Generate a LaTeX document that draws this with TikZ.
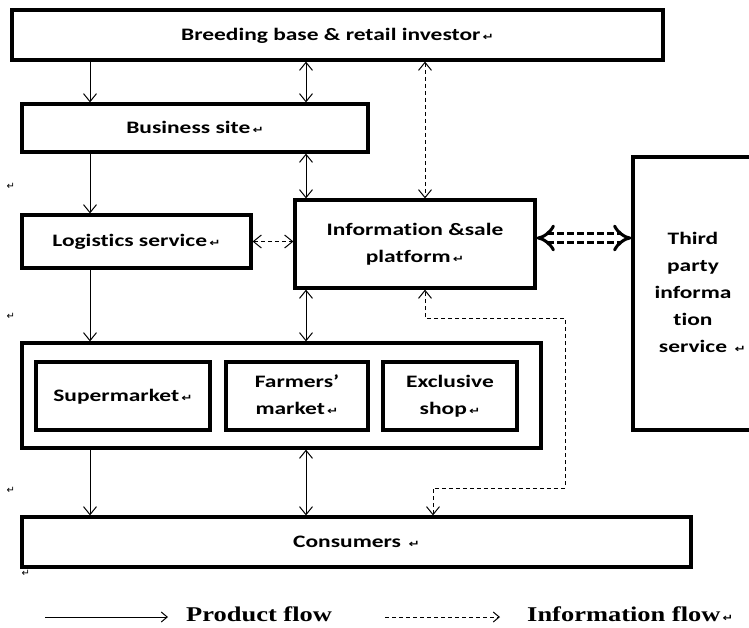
\documentclass[tikz,border=0pt]{standalone}
\usepackage{fontspec}
\usepackage{graphicx}
\setmainfont{Carlito}[Ligatures=NoCommon]
\newfontfamily\legendfont{Liberation Serif}[Ligatures=NoCommon]
\newfontfamily\symfont{DejaVu Sans}
\usetikzlibrary{arrows.meta}

\newcommand{\retmark}{{\symfont\fontsize{10}{10}\selectfont\,↵}}
\newcommand{\boxlabel}[1]{\scalebox{1.34}[1]{\begin{tabular}{@{}c@{}}#1\end{tabular}}}

\tikzset{
  block/.style={draw, line width=3.2pt, inner sep=0pt, font=\bfseries\fontsize{17.5}{27}\selectfont},
  pflow/.style={line width=1pt, -{Straight Barb[length=8pt,width=13pt,line width=1pt]}},
  pflows/.style={line width=1pt, {Straight Barb[length=8pt,width=13pt,line width=1pt]}-{Straight Barb[length=8pt,width=13pt,line width=1pt]}},
  iflows/.style={pflows, dash pattern=on 4pt off 3pt},
  bigflow/.style={double, double distance=6pt, line width=3pt, dash pattern=on 7pt off 3pt, {Implies}-{Implies}},
  legarrow/.style={line width=1pt, -{Straight Barb[length=6pt,width=10pt,line width=1pt]}},
  legtext/.style={anchor=base west, inner sep=0pt, font=\legendfont\bfseries\fontsize{21}{21}\selectfont},
  retnode/.style={inner sep=0pt}
}

\begin{document}
\begin{tikzpicture}[x=1pt,y=-1pt]
  \useasboundingbox (0,0) rectangle (749,627);

  % boxes
  \node[block, minimum width=651pt, minimum height=50pt] (breed) at (337.5,35) {\boxlabel{Breeding base \& retail investor\retmark}};
  \node[block, minimum width=346pt, minimum height=48pt] (biz) at (195,128) {\boxlabel{Business site\retmark}};
  \node[block, minimum width=229pt, minimum height=53pt] (logi) at (136.5,241.5) {\boxlabel{Logistics service\retmark}};
  \node[block, minimum width=240pt, minimum height=88pt] (info) at (415,244) {\boxlabel{Information \&sale\\platform\retmark}};
  \node[block, minimum width=120pt, minimum height=273pt] (third) at (693,293.5) {\boxlabel{Third\\party\\informa\\tion\\service\rlap{ \retmark}}};
  \node[block, minimum width=519pt, minimum height=105pt] (retail) at (281.5,395.5) {};
  \node[block, minimum width=174pt, minimum height=68pt] (superm) at (123,396) {\boxlabel{Supermarket\retmark}};
  \node[block, minimum width=142pt, minimum height=68pt] (farmers) at (297,396) {\boxlabel{Farmers’\\market\retmark}};
  \node[block, minimum width=134pt, minimum height=68pt] (excl) at (450,396) {\boxlabel{Exclusive\\shop\retmark}};
  \node[block, minimum width=669pt, minimum height=50pt] (cons) at (356.5,542) {\boxlabel{Consumers \retmark}};

  % columns
  \coordinate (colA) at (90,0);
  \coordinate (colB) at (306,0);
  \coordinate (colC) at (425,0);
  \coordinate (lpA) at (565,318);
  \coordinate (lpB) at (433,488);

  % product flow
  \draw[pflow] (breed.south -| colA) -- (biz.north -| colA);
  \draw[pflows] (breed.south -| colB) -- (biz.north -| colB);
  \draw[pflow] (biz.south -| colA) -- (logi.north -| colA);
  \draw[pflows] (biz.south -| colB) -- (info.north -| colB);
  \draw[pflow] (logi.south -| colA) -- (retail.north -| colA);
  \draw[pflows] (info.south -| colB) -- (retail.north -| colB);
  \draw[pflow] (retail.south -| colA) -- (cons.north -| colA);
  \draw[pflows] (retail.south -| colB) -- (cons.north -| colB);

  % information flow
  \draw[iflows] (breed.south -| colC) -- (info.north -| colC);
  \draw[iflows] (logi.east) -- (info.west |- logi.east);
  \draw[iflows] (cons.north -| lpB) -- (lpB) -| (lpA) -| (info.south -| colC);
  \draw[bigflow] ([yshift=6pt]info.east) -- ([yshift=6pt]info.east -| third.west);

  % stray paragraph marks
  \node[retnode] (rm1) at (10,186) {\retmark};
  \node[retnode] (rm2) at (10,316) {\retmark};
  \node[retnode] (rm3) at (10,490) {\retmark};
  \node[retnode] (rm4) at (25,573) {\retmark};

  % legend
  \coordinate (pl0) at (45,617);
  \coordinate (pl1) at (168,617);
  \coordinate (il0) at (385,617);
  \coordinate (il1) at (500,617);
  \draw[legarrow] (pl0) -- (pl1);
  \draw[legarrow, dash pattern=on 4pt off 3pt] (il0) -- (il1);
  \node[legtext] (prodtxt) at (186,621) {\scalebox{1.26}[1]{Product flow}};
  \node[legtext] (infotxt) at (527,621) {\scalebox{1.26}[1]{Information flow\retmark}};
\end{tikzpicture}
\end{document}
